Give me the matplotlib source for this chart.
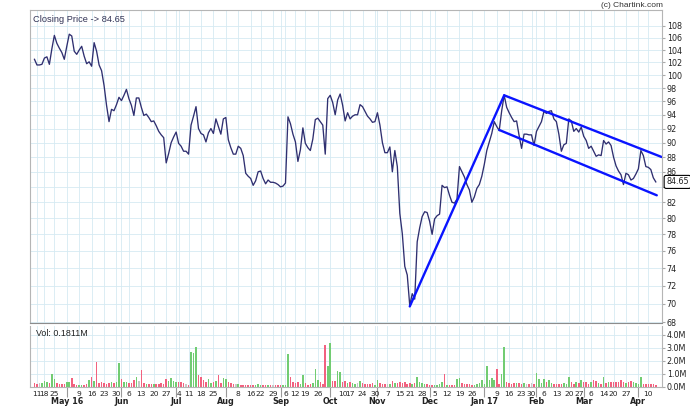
import numpy as np
import pandas as pd
import matplotlib
matplotlib.use('Agg')
import matplotlib.pyplot as plt
from matplotlib.ticker import NullLocator
from matplotlib.transforms import blended_transform_factory

# NSE trading calendar for the period shown
start_date = '2016-04-08'
end_date = '2017-04-13'
holidays = ['2016-04-14', '2016-04-15', '2016-04-19', '2016-07-06', '2016-08-15',
            '2016-09-05', '2016-09-13', '2016-10-11', '2016-10-12', '2016-10-31',
            '2016-11-14', '2017-01-26', '2017-02-24', '2017-03-13', '2017-04-04']
special_sessions = ['2016-10-30']  # muhurat trading

# daily closing prices
close = [
    102.5, 101.6, 101.6, 101.7, 102.7, 102.9, 101.7, 104.2, 106.4, 105.1,
    104.3, 103.6, 102.5, 104.6, 106.6, 106.3, 103.8, 103.3, 104.0, 104.6,
    103.0, 101.8, 102.1, 101.4, 105.2, 103.8, 101.6, 100.7, 98.4, 95.4,
    93.0, 94.8, 94.6, 95.5, 96.6, 96.1, 96.9, 97.8, 96.4, 95.4,
    93.9, 96.5, 96.5, 95.1, 93.9, 94.1, 93.6, 93.0, 93.1, 92.4,
    91.6, 91.1, 90.7, 87.2, 88.5, 90.0, 90.8, 91.5, 89.9, 89.5,
    88.8, 88.8, 88.4, 92.5, 93.8, 95.2, 92.0, 91.3, 91.1, 90.1,
    91.4, 92.0, 91.3, 93.4, 92.3, 91.2, 93.4, 93.6, 90.4, 89.3,
    88.4, 88.4, 89.5, 89.2, 88.2, 85.8, 85.4, 85.1, 84.2, 84.8,
    86.0, 86.1, 85.1, 84.4, 84.9, 84.6, 84.6, 84.5, 84.3, 84.0,
    84.1, 84.5, 93.7, 92.7, 91.2, 90.1, 87.4, 89.0, 92.1, 89.9,
    89.3, 88.9, 90.5, 93.3, 93.5, 93.0, 92.5, 88.4, 96.4, 96.9,
    95.8, 94.0, 96.2, 97.1, 95.4, 93.1, 94.3, 93.4, 93.8, 94.0,
    94.0, 95.5, 95.2, 94.5, 93.8, 93.4, 92.9, 93.0, 94.3, 92.5,
    90.0, 88.6, 88.6, 89.4, 86.0, 88.9, 86.7, 80.6, 78.1, 74.2,
    73.2, 69.8, 71.1, 70.5, 77.1, 78.8, 80.2, 80.8, 80.7, 79.6,
    78.0, 79.9, 80.3, 80.5, 84.2, 83.9, 84.0, 82.9, 82.0, 81.9,
    82.4, 86.7, 86.0, 85.3, 84.3, 83.6, 82.0, 82.7, 83.8, 84.3,
    85.4, 87.0, 88.9, 90.1, 91.3, 93.0, 92.3, 91.7, 94.6, 96.9,
    95.1, 94.3, 93.6, 93.0, 93.1, 91.0, 89.2, 91.2, 91.2, 91.1,
    91.1, 89.6, 91.6, 92.3, 93.0, 94.5, 94.2, 94.5, 94.6, 93.4,
    93.0, 91.2, 88.8, 89.7, 89.9, 93.4, 93.1, 91.6, 92.0, 91.5,
    92.2, 90.9, 90.3, 89.2, 89.5, 88.8, 88.1, 88.3, 88.2, 90.3,
    89.8, 90.1, 89.6, 88.0, 86.8, 86.1, 85.6, 84.3, 85.8, 85.6,
    84.9, 85.1, 85.7, 86.4, 88.9, 88.2, 86.7, 86.6, 86.3, 85.2,
    84.65,
]

# daily volume in millions
volume_m = [
    0.30, 0.22, 0.30, 0.30, 0.46, 0.36, 0.30, 0.97, 0.64, 0.30,
    0.26, 0.26, 0.26, 0.38, 0.38, 0.72, 0.22, 0.15, 0.15, 0.18,
    0.18, 0.22, 0.50, 0.77, 0.45, 1.90, 0.30, 0.38, 0.30, 0.26,
    0.30, 0.38, 0.30, 0.38, 1.85, 0.64, 0.38, 0.36, 0.30, 0.30,
    0.56, 0.77, 0.45, 1.33, 0.30, 0.22, 0.22, 0.20, 0.22, 0.26,
    0.22, 0.30, 0.26, 0.60, 0.45, 0.72, 0.45, 0.40, 0.40, 0.40,
    0.30, 0.26, 0.18, 2.65, 2.60, 3.10, 0.90, 0.75, 0.50, 0.36,
    0.64, 0.30, 0.40, 0.45, 0.95, 0.30, 0.70, 0.64, 0.40, 0.30,
    0.26, 0.22, 0.22, 0.18, 0.18, 0.15, 0.15, 0.18, 0.15, 0.15,
    0.22, 0.18, 0.15, 0.12, 0.15, 0.18, 0.15, 0.15, 0.18, 0.15,
    0.18, 0.15, 2.50, 0.77, 0.36, 0.30, 0.40, 0.26, 0.90, 0.30,
    0.18, 0.22, 0.30, 1.40, 0.55, 0.36, 0.26, 3.25, 1.60, 3.35,
    0.45, 0.45, 1.25, 1.15, 0.40, 0.45, 0.30, 0.35, 0.30, 0.26,
    0.30, 0.45, 0.30, 0.26, 0.22, 0.22, 0.30, 0.15, 0.55, 0.30,
    0.26, 0.22, 0.20, 0.26, 0.45, 0.30, 0.30, 0.40, 0.30, 0.38,
    0.26, 0.30, 0.22, 0.30, 0.77, 0.40, 0.30, 0.22, 0.22, 0.15,
    0.15, 0.15, 0.18, 0.22, 0.40, 1.00, 0.18, 0.12, 0.12, 0.18,
    0.65, 0.70, 0.30, 0.26, 0.22, 0.22, 0.18, 0.18, 0.22, 0.30,
    0.55, 0.22, 1.60, 0.55, 0.70, 0.50, 1.35, 0.22, 1.00, 3.10,
    0.40, 0.30, 0.22, 0.30, 0.30, 0.30, 0.26, 0.30, 0.22, 0.26,
    0.30, 0.26, 1.10, 0.64, 0.30, 0.64, 0.40, 0.55, 0.30, 0.26,
    0.26, 0.26, 0.22, 0.30, 0.26, 0.77, 0.40, 0.26, 0.40, 0.30,
    0.55, 0.40, 0.36, 0.26, 0.36, 0.55, 0.45, 0.30, 0.26, 0.78,
    0.30, 0.36, 0.40, 0.40, 0.36, 0.40, 0.50, 0.40, 0.30, 0.36,
    0.45, 0.36, 0.30, 0.26, 0.80, 0.22, 0.22, 0.22, 0.22, 0.22,
    0.1811,
]

# hand drawn trend lines: (bar index, price) end points
rise_line = ([151, 189], [69.7, 96.9])
channel_top = ([189, 252.4], [96.9, 88.0])
channel_bottom = ([187, 250.4], [91.8, 82.9])

price_ticks = list(range(68, 109, 2))
vol_ticks = [0, 1, 2, 3, 4]

dates = (pd.bdate_range(start_date, end_date)
         .difference(pd.to_datetime(holidays))
         .union(pd.to_datetime(special_sessions)))
assert len(dates) == len(close) == len(volume_m), (len(dates), len(close), len(volume_m))
x = np.arange(len(dates))
close = np.array(close)
volume_m = np.array(volume_m)

# first trading day of each week (a Sunday session opens the following week)
iso = (dates + pd.Timedelta(days=1)).isocalendar()
wkey = (iso['year'] * 100 + iso['week']).values
week_starts = [i for i in range(1, len(dates)) if wkey[i] != wkey[i - 1]]
month_starts = [i for i in range(1, len(dates)) if dates[i].month != dates[i - 1].month]

GRID = '#d6eaf2'
LINE = '#2f2f70'
TXT = '#333355'
W, H = 690, 408

fig = plt.figure(figsize=(W / 100, H / 100), dpi=100)
ax = fig.add_axes([30 / W, 1 - 323 / H, 632 / W, 313 / H])
axv = fig.add_axes([30 / W, 1 - 387 / H, 632 / W, 61 / H])

for a in (ax, axv):
    a.set_xlim(-1.8, 252.5)
    a.set_xticks(month_starts)
    a.set_xticks(week_starts, minor=True)
    a.grid(True, which='both', axis='x', color=GRID, lw=0.6)
    a.grid(True, which='major', axis='y', color=GRID, lw=0.6)
    a.set_axisbelow(True)
    a.yaxis.tick_right()
    a.tick_params(axis='y', length=2, pad=1.5, labelsize=5.8, colors='#aaaaaa', labelcolor='#222222')
    for s in a.spines.values():
        s.set_color('#b5b5b5')
        s.set_linewidth(0.8)

# price panel (log scale, like the source chart)
ax.set_yscale('log')
ax.set_ylim(67.92, 110.7)
ax.set_yticks(price_ticks)
# the last-price box sits on top of the nearest tick label
hidden = min(price_ticks, key=lambda v: abs(v - close[-1]))
ax.set_yticklabels(['' if v == hidden else str(v) for v in price_ticks])
ax.yaxis.set_minor_locator(NullLocator())
ax.tick_params(axis='x', which='both', length=0, labelbottom=False)
ax.spines['bottom'].set_color('#8c8c8c')

ax.plot(x, close, color=LINE, lw=0.95)
for xs, ys in (rise_line, channel_top, channel_bottom):
    ax.plot(xs, ys, color='#0a14ff', lw=1.7, solid_capstyle='round')

ax.annotate(f'{close[-1]:.2f}', xy=(1, close[-1]), xycoords=('axes fraction', 'data'),
            xytext=(3, 0), textcoords='offset points', ha='left', va='center',
            fontsize=5.8, color='#222222', annotation_clip=False, zorder=5,
            bbox=dict(boxstyle='round,pad=0.25', fc='white', ec='black', lw=0.8))

fig.text(33 / W, 1 - 20 / H, f'Closing Price -> {close[-1]:.2f}', fontsize=6.7,
         color=TXT, va='center', ha='left', family='Liberation Sans')
fig.text(663 / W, 1 - 5.5 / H, '(c) Chartink.com', fontsize=6, color='#333333',
         va='center', ha='right', family='Liberation Sans')

# volume panel
up = np.diff(close, prepend=close[0] + 1)
colors = np.where(up > 0, '#72cc72', np.where(up < 0, '#f2617f', '#c8c8c8'))
axv.bar(x, volume_m, width=0.62, color=colors, linewidth=0)
axv.set_ylim(0, 4.67)
axv.set_yticks(vol_ticks)
axv.set_yticklabels([f'{v:.1f}M' for v in vol_ticks])
axv.spines['top'].set_visible(False)
axv.tick_params(axis='x', which='major', length=7, color='#999999', labelbottom=False)
axv.tick_params(axis='x', which='minor', length=0, labelbottom=False)
axv.text(0.0095, 0.885, f'Vol: {volume_m[-1]:.4f}M', transform=axv.transAxes,
         fontsize=6.4, color='#222222', va='center', ha='left', family='Liberation Sans')

# date labels under the volume panel
tr = blended_transform_factory(axv.transData, axv.transAxes)
for i in week_starts:
    if i in month_starts:
        continue
    axv.text(i, -0.115, str(dates[i].day), transform=tr, ha='center', va='center',
             fontsize=5.4, color='#222222', clip_on=False)
for n, i in enumerate(month_starts):
    d = dates[i]
    lab = d.strftime('%b %y') if (n == 0 or d.month == 1) else d.strftime('%b')
    axv.text(i, -0.23, lab, transform=tr, ha='center', va='center',
             fontsize=5.8, fontweight='bold', color='#222222', clip_on=False)

fig.savefig('out.png', dpi=100)
